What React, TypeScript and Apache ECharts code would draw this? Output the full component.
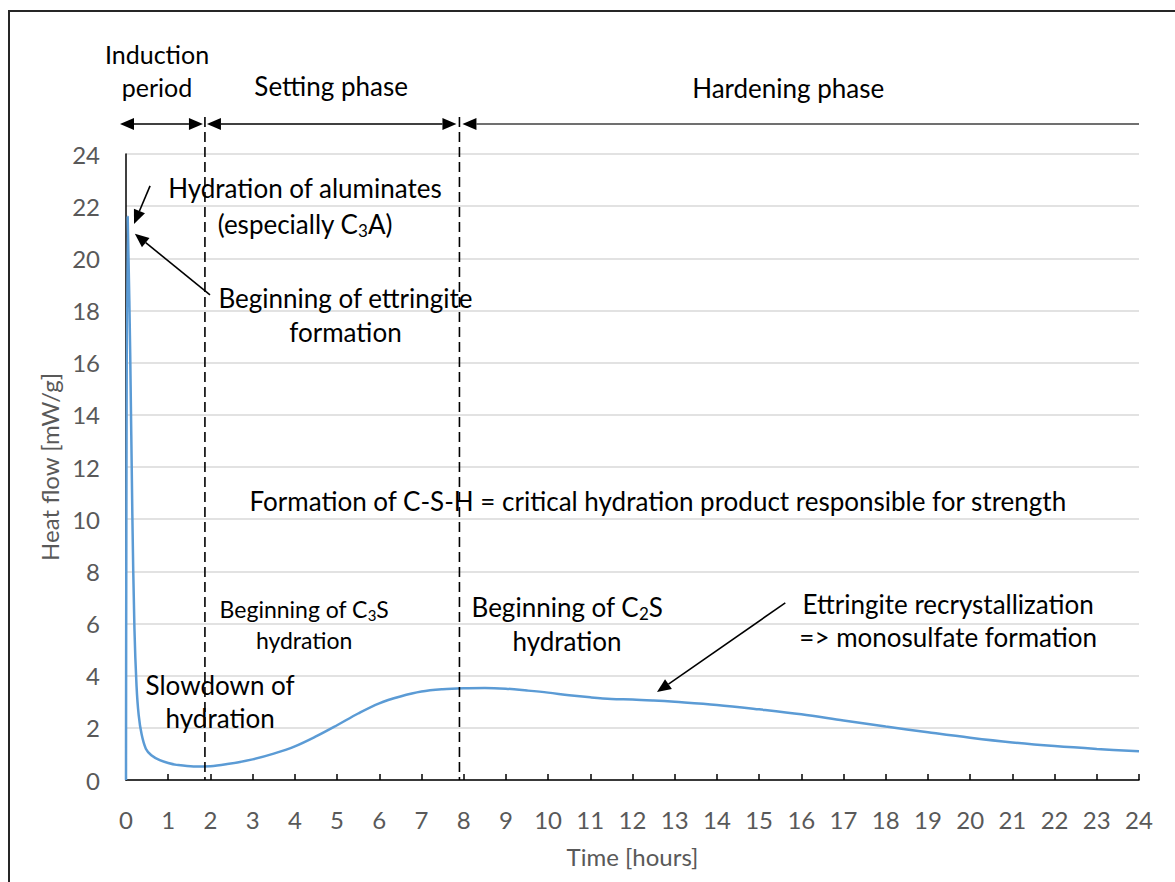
import React, { useEffect, useRef } from 'react';
import * as echarts from 'echarts';

// ---- data ----
const hours = [0, 0.04, 0.1, 0.15, 0.2, 0.25, 0.3, 0.37, 0.47, 0.6, 0.8, 1.0, 1.2, 1.6, 2.0, 2.4, 3.0, 3.5, 4.0, 4.5, 5.0, 5.5, 6.0, 6.5, 7.0, 7.5, 8.0, 8.5, 9.0, 9.5, 10, 10.5, 11, 11.5, 12, 12.5, 13, 14, 15, 16, 17, 18, 19, 20, 21, 22, 23, 24];
const heatFlow = [0, 21.6, 16.3, 10.2, 5.8, 3.6, 2.5, 1.75, 1.2, 0.95, 0.76, 0.65, 0.58, 0.52, 0.53, 0.61, 0.79, 1.01, 1.29, 1.67, 2.1, 2.55, 2.94, 3.2, 3.39, 3.48, 3.52, 3.53, 3.5, 3.43, 3.35, 3.25, 3.17, 3.11, 3.09, 3.05, 3.0, 2.88, 2.71, 2.52, 2.28, 2.05, 1.83, 1.62, 1.44, 1.3, 1.19, 1.1];
const phaseNames = ['Induction\nperiod', 'Setting phase', 'Hardening phase'];
const phaseBoundaries = [1.87, 7.9];
const xAxisTitle = 'Time [hours]';
const yAxisTitle = 'Heat flow [mW/g]';
const notes = [
  'Hydration of aluminates\n(especially C{sub|3}A)',
  'Beginning of ettringite\nformation',
  'Formation of C-S-H = critical hydration product responsible for strength',
  'Beginning of C{sub|3}S\nhydration',
  'Beginning of C{sub|2}S\nhydration',
  'Ettringite recrystallization\n=> monosulfate formation',
  'Slowdown of\nhydration',
];

const FONT = 'Lato, "Open Sans", sans-serif';
const AXIS_GRAY = '#595959';

export default function App() {
  const ref = useRef<HTMLDivElement>(null);
  useEffect(() => {
    if (!ref.current) return;
    const chart = echarts.init(ref.current, undefined, { renderer: 'svg' });
    const data = hours.map((h, i) => [h, heatFlow[i]]);
    chart.setOption({
      animation: false,
      backgroundColor: '#fff',
      grid: { left: 126, right: 36, top: 154, bottom: 102 },
      xAxis: {
        type: 'value', min: 0, max: 24, interval: 1,
        name: xAxisTitle, nameLocation: 'middle', nameGap: 64,
        nameTextStyle: { color: AXIS_GRAY, fontSize: 24, fontFamily: FONT },
        axisLine: { show: true, lineStyle: { color: '#000', width: 1.5 } },
        axisTick: { show: true, inside: true, length: 6, lineStyle: { color: '#000', width: 1.5 } },
        axisLabel: { color: AXIS_GRAY, fontSize: 24, fontFamily: FONT, margin: 27 },
        splitLine: { show: false },
      },
      yAxis: {
        type: 'value', min: 0, max: 24, interval: 2,
        name: yAxisTitle, nameLocation: 'middle', nameGap: 62, nameRotate: 90,
        nameTextStyle: { color: AXIS_GRAY, fontSize: 24, fontFamily: FONT },
        axisLine: { show: true, lineStyle: { color: '#000', width: 1.5 } },
        axisTick: { show: false },
        axisLabel: { color: AXIS_GRAY, fontSize: 24, fontFamily: FONT, margin: 26 },
        splitLine: { show: true, lineStyle: { color: '#d9d9d9', width: 1.5 } },
      },
      series: [{
        type: 'line', data, showSymbol: false, symbol: 'none',
        smooth: 0.35,
        lineStyle: { color: '#5b9bd5', width: 2.5 },
        z: 3,
      }],
    });

    const px = (h: number) => chart.convertToPixel({ xAxisIndex: 0 }, h) as number;
    const py = (v: number) => chart.convertToPixel({ yAxisIndex: 0 }, v) as number;
    const els: any[] = [];

    const head = (x1: number, y1: number, x2: number, y2: number, len = 14, half = 6) => {
      const dx = x2 - x1, dy = y2 - y1;
      const d = Math.hypot(dx, dy) || 1;
      const ux = dx / d, uy = dy / d;
      const bx = x2 - ux * len, by = y2 - uy * len;
      els.push({
        type: 'polygon', z: 20,
        shape: { points: [[x2, y2], [bx - uy * half, by + ux * half], [bx + uy * half, by - ux * half]] },
        style: { fill: '#000' },
      });
      return [bx, by];
    };
    const arrow = (x1: number, y1: number, x2: number, y2: number, startHead: boolean, endHead: boolean, color = '#000') => {
      let sx = x1, sy = y1, ex = x2, ey = y2;
      if (endHead) [ex, ey] = head(x1, y1, x2, y2);
      if (startHead) [sx, sy] = head(x2, y2, x1, y1);
      els.push({ type: 'line', z: 19, shape: { x1: sx, y1: sy, x2: ex, y2: ey }, style: { stroke: color, lineWidth: 1.6 } });
    };
    const text = (t: string, x: number, y: number, size = 26, lh = 34) => {
      els.push({
        type: 'text', z: 25, x, y,
        style: {
          text: t, align: 'center', verticalAlign: 'middle', textAlign: 'center', textVerticalAlign: 'middle',
          fontSize: size, fontFamily: FONT, fill: '#000', lineHeight: lh,
          rich: { sub: { fontSize: Math.round(size * 0.66), fontFamily: FONT, fill: '#000', padding: [Math.round(size * 0.5), 0, 0, 0] } },
        },
      });
    };

    // outer frame
    els.push({ type: 'rect', z: 1, shape: { x: 9, y: 11, width: 1400, height: 1000 }, style: { fill: 'none', stroke: '#262626', lineWidth: 2 } });

    const top = py(24);
    const bottom = py(0);
    const arrowY = top - 30;
    const b1 = px(phaseBoundaries[0]);
    const b2 = px(phaseBoundaries[1]);
    [b1, b2].forEach((bx) => {
      els.push({ type: 'line', z: 18, shape: { x1: bx, y1: top - 37, x2: bx, y2: bottom }, style: { stroke: '#000', lineWidth: 1.6, lineDash: [10, 5] } });
    });
    arrow(px(0) - 6, arrowY, b1 - 2, arrowY, true, true);
    arrow(b1 + 2, arrowY, b2 - 3, arrowY, true, true);
    arrow(b2 + 3, arrowY, px(24), arrowY, true, false, '#404040');

    text(phaseNames[0], px(0.735), py(27.19), 25, 33);
    text(phaseNames[1], px(4.86), py(26.61));
    text(phaseNames[2], px(15.69), py(26.53));

    text(notes[0], px(4.24), py(21.99), 26, 36);
    text(notes[1], px(5.2), py(17.83), 26, 34);
    text(notes[2], px(12.6), py(10.7));
    text(notes[3], px(4.22), py(5.96), 23, 31);
    text(notes[4], px(10.45), py(5.98), 26, 34);
    text(notes[5], px(19.48), py(6.12), 26, 33);
    text(notes[6], px(2.23), py(3.01), 26, 33);

    arrow(px(0.57), py(22.78), px(0.19), py(21.32), false, true);
    arrow(px(1.99), py(18.6), px(0.21), py(20.94), false, true);
    arrow(px(15.62), py(6.79), px(12.58), py(3.37), false, true);

    chart.setOption({ graphic: { elements: els } });
    return () => chart.dispose();
  }, []);
  return <div ref={ref} style={{ position: 'fixed', left: 0, top: 0, width: 1175, height: 882 }} />;
}
